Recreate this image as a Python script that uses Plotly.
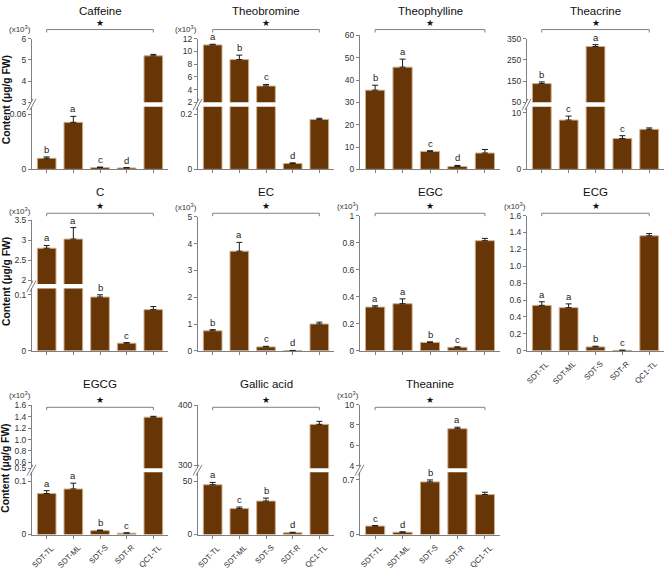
import plotly.graph_objects as go

W, H = 671, 568

groups = ["SDT-TL", "SDT-ML", "SDT-S", "SDT-R", "QC1-TL"]

# values (the x10^3 panels are kept in x10^3 units)
caffeine_mean = [0.012, 0.051, 0.002, 0.0015, 5.19]
caffeine_err = [0.0015, 0.0065, 0.0005, 0.0004, 0.07]
caffeine_sig = ["b", "a", "c", "d", ""]

theobromine_mean = [11.02, 8.71, 4.55, 0.0214, 0.181]
theobromine_err = [0.1, 0.7, 0.25, 0.002, 0.004]
theobromine_sig = ["a", "b", "c", "d", ""]

theophylline_mean = [35.5, 45.8, 8.05, 1.3, 7.3]
theophylline_err = [2.2, 3.6, 0.3, 0.45, 1.6]
theophylline_sig = ["b", "a", "c", "d", ""]

theacrine_mean = [138, 8.73, 313, 5.46, 7.09]
theacrine_err = [8, 0.7, 9, 0.5, 0.25]
theacrine_sig = ["b", "c", "a", "c", ""]

c_mean = [2.80, 3.03, 0.096, 0.0136, 0.0735]
c_err = [0.07, 0.29, 0.004, 0.001, 0.0055]
c_sig = ["a", "a", "b", "c", ""]

ec_mean = [0.745, 3.72, 0.146, 0.01, 1.0]
ec_err = [0.045, 0.33, 0.02, 0.004, 0.07]
ec_sig = ["b", "a", "c", "d", ""]

egc_mean = [0.323, 0.348, 0.062, 0.026, 0.814]
egc_err = [0.01, 0.036, 0.004, 0.003, 0.017]
egc_sig = ["a", "a", "b", "c", ""]

ecg_mean = [0.537, 0.51, 0.046, 0.005, 1.36]
ecg_err = [0.043, 0.045, 0.008, 0.002, 0.027]
ecg_sig = ["a", "a", "b", "c", ""]

egcg_mean = [0.0772, 0.0858, 0.0074, 0.0024, 1.39]
egcg_err = [0.0055, 0.011, 0.001, 0.0008, 0.015]
egcg_sig = ["a", "a", "b", "c", ""]

gallic_mean = [46.9, 24.4, 31.5, 1.6, 368]
gallic_err = [2.2, 1.5, 2.8, 0.5, 5]
gallic_sig = ["a", "c", "b", "d", ""]

theanine_mean = [0.108, 0.029, 0.675, 7.63, 0.512]
theanine_err = [0.006, 0.005, 0.025, 0.15, 0.03]
theanine_sig = ["c", "d", "b", "a", ""]

# tick labels (lower segment / upper segment of broken axes)
caffeine_lo_ticks = ["0", "0.06"]
caffeine_up_ticks = ["3", "4", "5", "6"]
theobromine_lo_ticks = ["0", "0.2"]
theobromine_up_ticks = ["2", "4", "6", "8", "10", "12"]
theophylline_ticks = ["0", "10", "20", "30", "40", "50", "60"]
theacrine_lo_ticks = ["0", "10"]
theacrine_up_ticks = ["50", "150", "250", "350"]
c_lo_ticks = ["0", "0.1"]
c_up_ticks = ["2", "2.5", "3", "3.5"]
ec_ticks = ["0", "1", "2", "3", "4", "5"]
egc_ticks = ["0", "0.2", "0.4", "0.6", "0.8", "1"]
ecg_ticks = ["0", "0.2", "0.4", "0.6", "0.8", "1.0", "1.2", "1.4", "1.6"]
egcg_lo_ticks = ["0", "0.1"]
egcg_up_ticks = ["0.5", "0.6", "0.8", "1.0", "1.2", "1.4", "1.6"]
gallic_lo_ticks = ["0", "50"]
gallic_up_ticks = ["300", "400"]
theanine_lo_ticks = ["0", "0.7"]
theanine_up_ticks = ["4", "6", "8", "10"]

BROWN = "#683507"
EDGE = "#cdb08c"
AXIS = "#808080"
FONT = "Liberation Sans, Arial, sans-serif"

# pixel layout
col_px = [(32, 168), (198, 334), (360, 500), (527, 664)]
row_bottom = [167.3, 352, 539]
row_gap = [(99, 103.5), (284, 288.5), (471.5, 475.5)]
row_bracket = [25, 212, 409.5]
row_title = [6, 190.5, 386]
row_label = [97, 282, 472]

panels = [
    dict(name="Caffeine", mean=caffeine_mean, err=caffeine_err, sig=caffeine_sig, row=0, col=0, top=34.3,
         lo_ticks=caffeine_lo_ticks, lo_max=0.068, up_ticks=caffeine_up_ticks, up_range=(3, 6), x10=True, xlab=False),
    dict(name="Theobromine", mean=theobromine_mean, err=theobromine_err, sig=theobromine_sig, row=0, col=1, top=34.3,
         lo_ticks=theobromine_lo_ticks, lo_max=0.227, up_ticks=theobromine_up_ticks, up_range=(2, 12), x10=True, xlab=False),
    dict(name="Theophylline", mean=theophylline_mean, err=theophylline_err, sig=theophylline_sig, row=0, col=2, top=31,
         lo_ticks=theophylline_ticks, lo_max=60, up_ticks=None, up_range=None, x10=False, xlab=False),
    dict(name="Theacrine", mean=theacrine_mean, err=theacrine_err, sig=theacrine_sig, row=0, col=3, top=34.3,
         lo_ticks=theacrine_lo_ticks, lo_max=11.1, up_ticks=theacrine_up_ticks, up_range=(50, 350), x10=False, xlab=False),
    dict(name="C", mean=c_mean, err=c_err, sig=c_sig, row=1, col=0, top=219.3,
         lo_ticks=c_lo_ticks, lo_max=0.1114, up_ticks=c_up_ticks, up_range=(1.9, 3.5), x10=True, xlab=False),
    dict(name="EC", mean=ec_mean, err=ec_err, sig=ec_sig, row=1, col=1, top=215.7,
         lo_ticks=ec_ticks, lo_max=5, up_ticks=None, up_range=None, x10=True, xlab=False),
    dict(name="EGC", mean=egc_mean, err=egc_err, sig=egc_sig, row=1, col=2, top=214.3,
         lo_ticks=egc_ticks, lo_max=1, up_ticks=None, up_range=None, x10=True, xlab=False),
    dict(name="ECG", mean=ecg_mean, err=ecg_err, sig=ecg_sig, row=1, col=3, top=214.3,
         lo_ticks=ecg_ticks, lo_max=1.6, up_ticks=None, up_range=None, x10=True, xlab=True),
    dict(name="EGCG", mean=egcg_mean, err=egcg_err, sig=egcg_sig, row=2, col=0, top=407.3,
         lo_ticks=egcg_lo_ticks, lo_max=0.1176, up_ticks=egcg_up_ticks, up_range=(0.5, 1.6), x10=True, xlab=True),
    dict(name="Gallic acid", mean=gallic_mean, err=gallic_err, sig=gallic_sig, row=2, col=1, top=407.3,
         lo_ticks=gallic_lo_ticks, lo_max=58.8, up_ticks=gallic_up_ticks, up_range=(295, 400), x10=False, xlab=True),
    dict(name="Theanine", mean=theanine_mean, err=theanine_err, sig=theanine_sig, row=2, col=2, top=406.7,
         lo_ticks=theanine_lo_ticks, lo_max=0.8, up_ticks=theanine_up_ticks, up_range=(3.76, 10), x10=True, xlab=True),
]


def px_x(p):
    return p / W


def px_y(p):
    return 1 - p / H


def ax_id(letter, n):
    return letter if n == 1 else f"{letter}{n}"


def y_style(ticks, rng, dom, anchor):
    eps = (rng[1] - rng[0]) * 1e-4
    return dict(domain=dom, anchor=anchor, range=[rng[0] - eps, rng[1] + eps],
                tickvals=[float(t) for t in ticks], ticktext=ticks,
                showline=True, linecolor=AXIS, linewidth=1, ticks="outside", ticklen=3,
                tickcolor=AXIS, tickfont=dict(size=8.5, color="#333", family=FONT),
                showgrid=False, zeroline=False, fixedrange=True)


fig = go.Figure()
layout = {}
shapes = []
annotations = []
ny = 0

for i, p in enumerate(panels):
    xn = i + 1
    xid = ax_id("x", xn)
    r = p["row"]
    c0, c1 = col_px[p["col"]]
    bottom = row_bottom[r]
    broken = p["up_range"] is not None

    ny += 1
    lo_n = ny
    lo_id = ax_id("y", lo_n)
    seg = [lo_id]
    if broken:
        gt, gb = row_gap[r]
        lo_dom = [px_y(bottom), px_y(gb)]
        ny += 1
        up_n = ny
        up_id = ax_id("y", up_n)
        seg.append(up_id)
        layout[ax_id("yaxis", up_n)] = y_style(p["up_ticks"], p["up_range"], [px_y(gt), px_y(p["top"])], xid)
        for dx in (0, 3):
            shapes.append(dict(type="line", xref="paper", yref="paper",
                               x0=px_x(c0 - 5 + dx), y0=px_y(gb + 3.5),
                               x1=px_x(c0 + 1 + dx), y1=px_y(gt - 3.5),
                               line=dict(color=AXIS, width=1)))
    else:
        lo_dom = [px_y(bottom), px_y(p["top"])]
    layout[ax_id("yaxis", lo_n)] = y_style(p["lo_ticks"], (0, p["lo_max"]), lo_dom, xid)

    layout[ax_id("xaxis", xn)] = dict(
        domain=[px_x(c0), px_x(c1)], anchor=lo_id, type="category", range=[-0.55, 4.55],
        showline=True, linecolor=AXIS, linewidth=1, ticks="outside", ticklen=3, tickcolor=AXIS,
        showticklabels=False, showgrid=False, zeroline=False, fixedrange=True)

    # slanted group labels under the axis
    if p["xlab"]:
        for g in groups:
            annotations.append(dict(x=g, y=0, xref=xid, yref=lo_id, text=g, textangle=-45,
                                    showarrow=False, xanchor="right", yanchor="top",
                                    xshift=11, yshift=-7, borderpad=0,
                                    font=dict(size=7.8, color="#333", family=FONT)))

    for yid in seg:
        fig.add_trace(go.Bar(
            x=groups, y=p["mean"], width=0.7, xaxis=xid, yaxis=yid,
            marker=dict(color=BROWN, line=dict(color=EDGE, width=1)),
            error_y=dict(type="data", symmetric=False, array=p["err"], arrayminus=[0] * len(groups),
                         color="#1a1a1a", thickness=1, width=3),
            showlegend=False, hoverinfo="skip"))

    # significance letters
    for k, s in enumerate(p["sig"]):
        if not s:
            continue
        top = p["mean"][k] + p["err"][k]
        yref = up_id if (broken and top >= p["up_range"][0]) else lo_id
        annotations.append(dict(x=groups[k], y=top, xref=xid, yref=yref, text=s, showarrow=False,
                                xanchor="center", yanchor="bottom",
                                font=dict(size=9.5, color="#222", family=FONT)))

    # bracket with star
    yb = px_y(row_bracket[r])
    yd = px_y(row_bracket[r] + 3)
    for x0, y0, x1, y1 in [(groups[0], yd, groups[0], yb), (groups[0], yb, groups[-1], yb),
                           (groups[-1], yb, groups[-1], yd)]:
        shapes.append(dict(type="line", xref=xid, yref="paper", x0=x0, y0=y0, x1=x1, y1=y1,
                           line=dict(color=AXIS, width=1)))
    annotations.append(dict(x=groups[2], y=yb, xref=xid, yref="paper", text="★", showarrow=False,
                            xanchor="center", yanchor="bottom",
                            font=dict(size=9, color="#111", family="DejaVu Sans")))

    # panel title
    annotations.append(dict(x=px_x((c0 + c1) / 2), y=px_y(row_title[r]), xref="paper", yref="paper",
                            text=p["name"], showarrow=False, xanchor="center", yanchor="middle",
                            font=dict(size=11.5, color="#111", family=FONT)))

    if p["x10"]:
        annotations.append(dict(x=px_x(c0 + 1), y=px_y(p["top"] - 10), xref="paper", yref="paper",
                                text="(x10<sup>3</sup>)", showarrow=False, xanchor="right", yanchor="middle",
                                font=dict(size=8, color="#333", family=FONT)))

for yc in row_label:
    annotations.append(dict(x=px_x(6), y=px_y(yc), xref="paper", yref="paper",
                            text="<b>Content (μg/g FW)</b>", textangle=-90, showarrow=False,
                            xanchor="center", yanchor="middle", borderpad=0,
                            font=dict(size=10.3, color="#111", family=FONT)))

fig.update_layout(width=W, height=H, margin=dict(l=0, r=0, t=0, b=0), autosize=False,
                  paper_bgcolor="white", plot_bgcolor="white",
                  font=dict(family=FONT), shapes=shapes, annotations=annotations, **layout)

# drop the page's default body margin so the figure sits at the window's corner
fig.write_html("out.html", config={"displayModeBar": False},
               post_script="document.body.style.margin='0';document.body.style.overflow='hidden';")
